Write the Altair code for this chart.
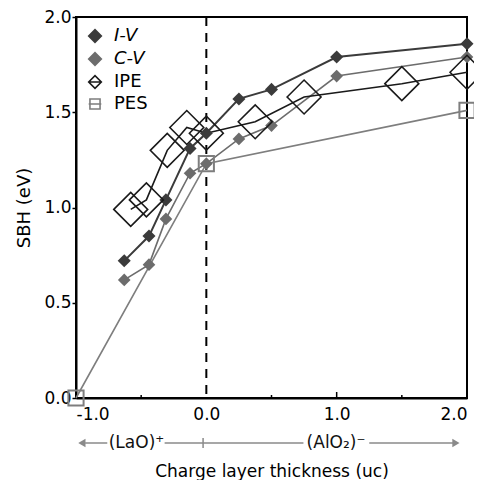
import altair as alt
import pandas as pd

FONT = "DejaVu Sans"

SERIES = ["I-V", "C-V", "IPE", "PES"]

IV_X = [-0.63, -0.44, -0.31, -0.125, 0.0, 0.25, 0.5, 1.0, 2.0]
IV_Y = [0.72, 0.85, 1.04, 1.31, 1.39, 1.57, 1.62, 1.79, 1.86]

CV_X = [-0.63, -0.44, -0.31, -0.125, 0.0, 0.25, 0.5, 1.0, 2.0]
CV_Y = [0.62, 0.70, 0.94, 1.18, 1.23, 1.36, 1.43, 1.69, 1.79]

IPE_X = [-0.58, -0.46, -0.30, -0.15, 0.0, 0.375, 0.75, 1.5, 2.0]
IPE_Y = [0.99, 1.04, 1.30, 1.42, 1.39, 1.45, 1.58, 1.65, 1.71]

PES_X = [-1.0, 0.0, 2.0]
PES_Y = [0.0, 1.23, 1.51]

X_TICKS = [-1.0, 0.0, 1.0, 2.0]
Y_TICKS = [0.0, 0.5, 1.0, 1.5, 2.0]
X_MAJOR_IN = [1.0]
X_MINOR_IN = [-0.5, 0.5, 1.5]

# charge-layer annotation row under the axis
ANNOT_TEXT = ["(LaO)\u207a", "(AlO\u2082)\u207b"]
ANNOT_TEXT_X = [-0.536, 0.995]
ANNOT_SEG_X1 = [-0.93, -0.32, 1.25]
ANNOT_SEG_X2 = [-0.76, 0.745, 1.90]
ARROW_L_X = [-0.955]
ARROW_R_X = [1.915]
ANNOT_TICK_X = [-0.025]

C_IV = "#3b3b3b"
C_CV = "#6c6c6c"
C_IPE = "#1a1a1a"
C_PES = "#7e7e7e"
C_ANN = "#8a8a8a"

H = 381
ANN_Y = 426

xs = alt.Scale(domain=[-1, 2], nice=False, zero=False)
ys = alt.Scale(domain=[0, 2], nice=False, zero=False)

x_axis = alt.Axis(
    values=X_TICKS,
    labelExpr="replace(format(datum.value, '.1f'), '\u2212', '-')",
    ticks=False, grid=False, labelFontSize=17, labelFont=FONT, labelColor="black",
    labelPadding=8, domainColor="black", domainWidth=2,
    title="Charge layer thickness (uc)", titleFont=FONT, titleFontSize=17,
    titleFontWeight="normal", titleColor="black", titlePadding=41,
)
y_axis = alt.Axis(
    values=Y_TICKS, format=".1f", grid=False, ticks=True, tickSize=4,
    tickColor="black", tickWidth=1.5, labelFontSize=17, labelFont=FONT,
    labelColor="black", labelPadding=1, domainColor="black", domainWidth=2,
    title="SBH (eV)", titleFont=FONT, titleFontSize=18, titleFontWeight="normal",
    titleColor="black", titlePadding=10,
)

def X():
    return alt.X("x:Q", scale=xs, axis=x_axis)

def Y():
    return alt.Y("y:Q", scale=ys, axis=y_axis)

df_iv = pd.DataFrame({"x": IV_X, "y": IV_Y})
df_cv = pd.DataFrame({"x": CV_X, "y": CV_Y})
df_ipe = pd.DataFrame({"x": IPE_X, "y": IPE_Y})
df_pes = pd.DataFrame({"x": PES_X, "y": PES_Y})

def enc(ch):
    return ch.encode(x=X(), y=Y())

vline = alt.Chart(pd.DataFrame({"x": [0.0]})).mark_rule(
    color="black", strokeWidth=2, strokeDash=[9, 7]
).encode(x=X())

line_pes = enc(alt.Chart(df_pes).mark_line(color=C_PES, strokeWidth=1.6))
line_cv = enc(alt.Chart(df_cv).mark_line(color=C_CV, strokeWidth=1.6))
line_ipe = enc(alt.Chart(df_ipe).mark_line(color=C_IPE, strokeWidth=1.6))
line_iv = enc(alt.Chart(df_iv).mark_line(color=C_IV, strokeWidth=2))

pt_pes = enc(alt.Chart(df_pes).mark_point(shape="square", size=230, filled=False,
                                          color=C_PES, strokeWidth=2, opacity=1))
pt_cv = enc(alt.Chart(df_cv).mark_point(shape="diamond", size=160, filled=True,
                                        color=C_CV, opacity=1))
pt_iv = enc(alt.Chart(df_iv).mark_point(shape="diamond", size=170, filled=True,
                                        color=C_IV, opacity=1))
pt_ipe = enc(alt.Chart(df_ipe).mark_point(shape="diamond", size=1150, filled=False,
                                          color=C_IPE, strokeWidth=1.6, opacity=1))

# inward x ticks
tick_major = alt.Chart(pd.DataFrame({"x": X_MAJOR_IN})).mark_rule(
    color="black", strokeWidth=1.5
).encode(x=X(), y=alt.value(H), y2=alt.value(H - 6))
tick_minor = alt.Chart(pd.DataFrame({"x": X_MINOR_IN})).mark_rule(
    color="black", strokeWidth=1.5
).encode(x=X(), y=alt.value(H), y2=alt.value(H - 3))

# annotation row
ann_segs = alt.Chart(pd.DataFrame({"x": ANNOT_SEG_X1, "x2": ANNOT_SEG_X2})).mark_rule(
    color=C_ANN, strokeWidth=1.5
).encode(x=X(), x2="x2:Q", y=alt.value(ANN_Y))
ann_tick = alt.Chart(pd.DataFrame({"x": ANNOT_TICK_X})).mark_rule(
    color=C_ANN, strokeWidth=1.5
).encode(x=X(), y=alt.value(ANN_Y - 5), y2=alt.value(ANN_Y + 5))
arrow_l = alt.Chart(pd.DataFrame({"x": ARROW_L_X})).mark_point(
    shape="triangle-left", size=70, filled=True, color=C_ANN, opacity=1
).encode(x=X(), y=alt.value(ANN_Y))
arrow_r = alt.Chart(pd.DataFrame({"x": ARROW_R_X})).mark_point(
    shape="triangle-right", size=70, filled=True, color=C_ANN, opacity=1
).encode(x=X(), y=alt.value(ANN_Y))
ann_text = alt.Chart(pd.DataFrame({"x": ANNOT_TEXT_X, "t": ANNOT_TEXT})).mark_text(
    font=FONT, fontSize=17, color="#111111", baseline="middle", align="center"
).encode(x=X(), y=alt.value(ANN_Y), text="t:N")

# legend-only layer (no visible marks; entries come from the explicit domain)
LEG_SHAPES = [
    "diamond",
    "diamond",
    "M-1,0L0,-1L1,0L0,1Z M-1,0L1,0",
    "M-0.8,-0.8L0.8,-0.8L0.8,0.8L-0.8,0.8Z M-1,0L1,0",
]
LEG_FILL = [C_IV, C_CV, "transparent", "transparent"]
LEG_STROKE = [C_IV, C_CV, C_IPE, C_PES]

leg = alt.Legend(
    title=None, orient="none", legendX=10, legendY=10, padding=0,
    labelFont=FONT, labelFontSize=18, labelColor="black", labelOffset=10,
    symbolSize=160, symbolStrokeWidth=1.6, rowPadding=3,
    labelFontStyle={"expr": "(datum.value == 'I-V' || datum.value == 'C-V') ? 'italic' : 'normal'"},
)
legend_layer = alt.Chart(pd.DataFrame({"series": SERIES})).transform_filter(
    "false"
).mark_point(opacity=1, strokeWidth=1.6).encode(
    shape=alt.Shape("series:N", scale=alt.Scale(domain=SERIES, range=LEG_SHAPES), legend=leg),
    fill=alt.Fill("series:N", scale=alt.Scale(domain=SERIES, range=LEG_FILL), legend=leg),
    stroke=alt.Stroke("series:N", scale=alt.Scale(domain=SERIES, range=LEG_STROKE), legend=leg),
)

chart = alt.layer(
    vline, line_pes, line_cv, line_ipe, line_iv,
    pt_pes, pt_cv, pt_iv, pt_ipe,
    tick_major, tick_minor,
    ann_segs, ann_tick, arrow_l, arrow_r, ann_text,
    legend_layer,
).properties(
    width=391, height=H,
    autosize=alt.AutoSizeParams(type="none"),
    padding={"left": 68, "top": 9, "right": 7, "bottom": 82},
    background="white",
).configure_view(
    stroke="black", strokeWidth=2
)

chart.save("out.html", embed_options={"renderer": "svg", "actions": False})
